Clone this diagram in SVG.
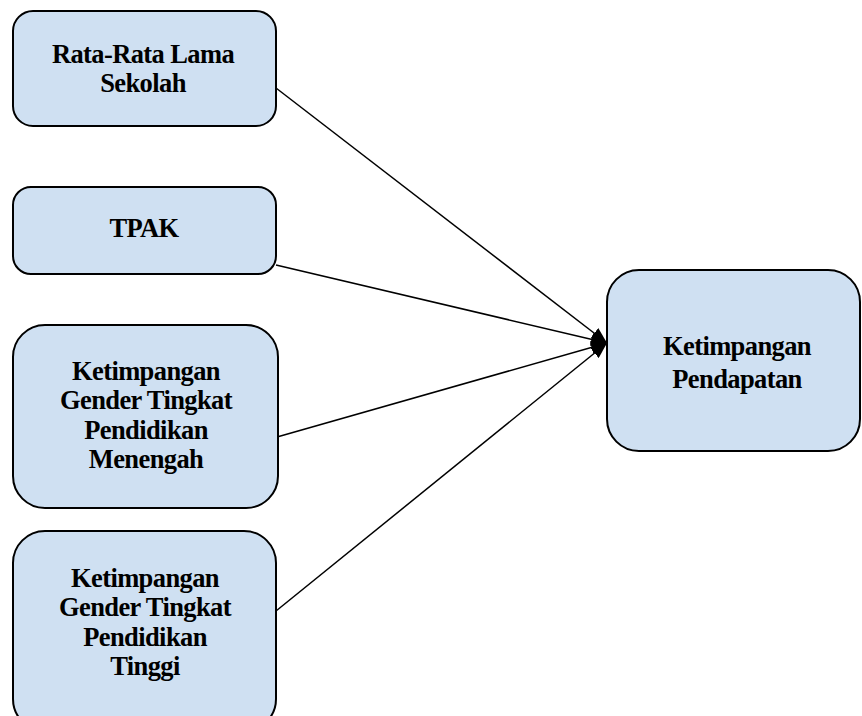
<svg xmlns="http://www.w3.org/2000/svg" width="862" height="716" viewBox="0 0 862 716">
<style>
.box{fill:#cfe0f2;stroke:#000;stroke-width:2}
.t{font-family:"Liberation Serif","Times New Roman",serif;font-weight:bold;font-size:26.5px;letter-spacing:-0.6px;fill:#000;text-anchor:middle}
.c{stroke:#000;stroke-width:1.5;fill:none;marker-end:url(#ah)}
</style>
<defs>
<marker id="ah" markerUnits="userSpaceOnUse" markerWidth="17" markerHeight="13" refX="16" refY="6.5" orient="auto">
<path d="M0,0 L16,6.5 L0,13 z" fill="#000"/>
</marker>
</defs>
<rect width="862" height="716" fill="#fff"/>
<g id="connectors">
<line class="c" x1="276" y1="88" x2="607" y2="343"/>
<line class="c" x1="276" y1="265" x2="607" y2="343"/>
<line class="c" x1="277" y1="437" x2="607" y2="343"/>
<line class="c" x1="276" y1="611" x2="607" y2="343"/>
</g>
<g id="n1">
<rect class="box" x="13" y="11" width="263" height="115" rx="20"/>
<text class="t" x="143" y="63">Rata-Rata Lama</text>
<text class="t" x="143" y="92">Sekolah</text>
</g>
<g id="n2">
<rect class="box" x="13" y="187" width="263" height="87" rx="18"/>
<text class="t" x="144" y="237">TPAK</text>
</g>
<g id="n3">
<rect class="box" x="13" y="325" width="265" height="183" rx="32"/>
<text class="t" x="146" y="380">Ketimpangan</text>
<text class="t" x="146" y="409">Gender Tingkat</text>
<text class="t" x="146" y="439">Pendidikan</text>
<text class="t" x="146" y="468">Menengah</text>
</g>
<g id="n4">
<rect class="box" x="13" y="531" width="263" height="200" rx="32"/>
<text class="t" x="145" y="587">Ketimpangan</text>
<text class="t" x="145" y="616">Gender Tingkat</text>
<text class="t" x="145" y="646">Pendidikan</text>
<text class="t" x="145" y="675">Tinggi</text>
</g>
<g id="n5">
<rect class="box" x="607" y="270" width="253" height="181" rx="32"/>
<text class="t" x="737" y="355">Ketimpangan</text>
<text class="t" x="737" y="388">Pendapatan</text>
</g>
</svg>
